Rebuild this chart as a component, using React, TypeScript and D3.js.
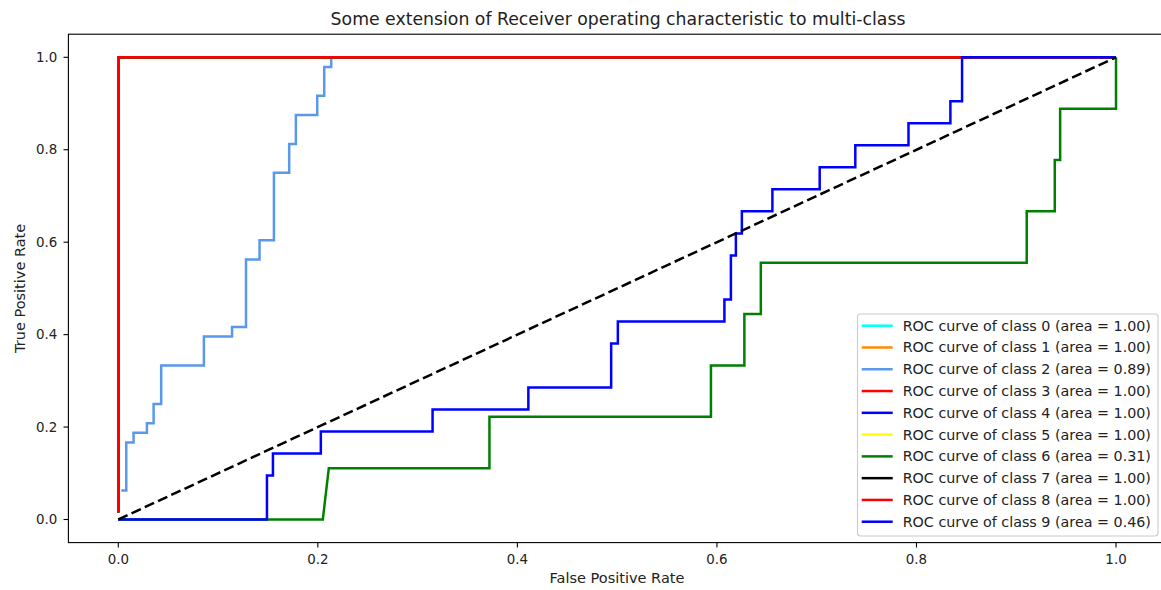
import React from "react";
import * as d3 from "d3";

const W = 1161;
const H = 590;

const titleText = "Some extension of Receiver operating characteristic to multi-class";
const xLabel = "False Positive Rate";
const yLabel = "True Positive Rate";
const tickValues = [0, 0.2, 0.4, 0.6, 0.8, 1.0];
const tickLabels = ["0.0", "0.2", "0.4", "0.6", "0.8", "1.0"];

const classNames = ["0", "1", "2", "3", "4", "5", "6", "7", "8", "9"];
const classAreas = ["1.00", "1.00", "0.89", "1.00", "1.00", "1.00", "0.31", "1.00", "1.00", "0.46"];
const classColors = ["#00ffff", "#ff8c00", "#5a98ec", "#ff0000", "#0000ff", "#ffff00", "#008000", "#000000", "#ff0000", "#0000ff"];

// perfect classifiers (0, 1, 3, 4, 5, 7, 8)
const fprPerfect = [0, 0, 1];
const tprPerfect = [0.015, 1, 1];

const fpr2 = [0.003, 0.008, 0.008, 0.0153, 0.0153, 0.0287, 0.0287, 0.0354, 0.0354, 0.043, 0.043, 0.0858, 0.0858, 0.114, 0.114, 0.128, 0.128, 0.1416, 0.1416, 0.156, 0.156, 0.1713, 0.1713, 0.178, 0.178, 0.1994, 0.1994, 0.2064, 0.2064, 0.2134, 0.2134, 1.0];
const tpr2 = [0.0625, 0.0625, 0.1667, 0.1667, 0.1875, 0.1875, 0.2083, 0.2083, 0.25, 0.25, 0.3333, 0.3333, 0.3958, 0.3958, 0.4167, 0.4167, 0.5625, 0.5625, 0.6042, 0.6042, 0.75, 0.75, 0.8125, 0.8125, 0.875, 0.875, 0.9167, 0.9167, 0.9792, 0.9792, 1, 1];

const fpr6 = [0, 0.205, 0.211, 0.372, 0.372, 0.594, 0.594, 0.6275, 0.6275, 0.644, 0.644, 0.9105, 0.9105, 0.9386, 0.9386, 0.944, 0.944, 1.0, 1.0];
const tpr6 = [0, 0, 0.1111, 0.1111, 0.2222, 0.2222, 0.3333, 0.3333, 0.4444, 0.4444, 0.5556, 0.5556, 0.6667, 0.6667, 0.7778, 0.7778, 0.8889, 0.8889, 1.0];

const fpr9 = [0, 0.149, 0.149, 0.155, 0.155, 0.203, 0.203, 0.315, 0.315, 0.411, 0.411, 0.494, 0.494, 0.5007, 0.5007, 0.6075, 0.6075, 0.614, 0.614, 0.619, 0.619, 0.625, 0.625, 0.6556, 0.6556, 0.703, 0.703, 0.7387, 0.7387, 0.792, 0.792, 0.834, 0.834, 0.8457, 0.8457, 1.0];
const tpr9 = [0, 0, 0.0952, 0.0952, 0.1429, 0.1429, 0.1905, 0.1905, 0.2381, 0.2381, 0.2857, 0.2857, 0.381, 0.381, 0.4286, 0.4286, 0.4762, 0.4762, 0.5714, 0.5714, 0.619, 0.619, 0.6667, 0.6667, 0.7143, 0.7143, 0.7619, 0.7619, 0.8095, 0.8095, 0.8571, 0.8571, 0.9048, 0.9048, 1, 1];

const classFpr = [fprPerfect, fprPerfect, fpr2, fprPerfect, fprPerfect, fprPerfect, fpr6, fprPerfect, fprPerfect, fpr9];
const classTpr = [tprPerfect, tprPerfect, tpr2, tprPerfect, tprPerfect, tprPerfect, tpr6, tprPerfect, tprPerfect, tpr9];

const diagFpr = [0, 1];
const diagTpr = [0, 1];

const FONT = "'DejaVu Sans', sans-serif";

export default function App() {
  const left = 68.4;
  const top = 34.2;
  const plotW = 1097.5;
  const plotH = 508.4;

  const x = d3.scaleLinear().domain([-0.05, 1.05]).range([left, left + plotW]);
  const y = d3.scaleLinear().domain([-0.05, 1.05]).range([top + plotH, top]);

  const line = d3
    .line<[number, number]>()
    .x((d) => x(d[0]))
    .y((d) => y(d[1]));

  const pts = (f: number[], t: number[]) => f.map((v, i) => [v, t[i]] as [number, number]);

  const legX = 857.5;
  const legY = 314;
  const legW = 300.5;
  const legH = 222;
  const rowH = 21.78;
  const LW = 2.5;

  return (
    <svg
      width={W}
      height={H}
      style={{ position: "absolute", left: 0, top: 0, background: "#fff" }}
      fontFamily={FONT}
    >
      <rect x={0} y={0} width={W} height={H} fill="#fff" />
      <defs>
        <clipPath id="plotclip">
          <rect x={left} y={top} width={plotW} height={plotH} />
        </clipPath>
      </defs>

      <g clipPath="url(#plotclip)">
        {classNames.map((c, i) => (
          <path
            key={c}
            d={line(pts(classFpr[i], classTpr[i])) || ""}
            fill="none"
            stroke={classColors[i]}
            strokeWidth={LW}
            strokeLinejoin="miter"
            strokeLinecap="butt"
          />
        ))}
        <path
          d={line(pts(diagFpr, diagTpr)) || ""}
          fill="none"
          stroke="#000"
          strokeWidth={LW}
          strokeDasharray="10.2,4.4"
        />
      </g>

      {/* spines */}
      <rect x={left} y={top} width={plotW} height={plotH} fill="none" stroke="#000" strokeWidth={1.1} />

      {/* x ticks */}
      {tickValues.map((v, i) => (
        <g key={"xt" + i}>
          <line x1={x(v)} x2={x(v)} y1={top + plotH} y2={top + plotH + 4.9} stroke="#000" strokeWidth={1.1} />
          <text x={x(v)} y={top + plotH + 16.5} textAnchor="middle" dominantBaseline="central" fontSize={13.4} fill="#222">
            {tickLabels[i]}
          </text>
        </g>
      ))}
      {/* y ticks */}
      {tickValues.map((v, i) => (
        <g key={"yt" + i}>
          <line x1={left - 4.9} x2={left} y1={y(v)} y2={y(v)} stroke="#000" strokeWidth={1.1} />
          <text x={left - 11} y={y(v)} textAnchor="end" dominantBaseline="central" fontSize={13.4} fill="#222">
            {tickLabels[i]}
          </text>
        </g>
      ))}

      <text x={617} y={578} textAnchor="middle" dominantBaseline="central" fontSize={14.5} fill="#222">
        {xLabel}
      </text>
      <text
        transform={`translate(20,${(top + top + plotH) / 2}) rotate(-90)`}
        textAnchor="middle"
        dominantBaseline="central"
        fontSize={14.5}
        fill="#222"
      >
        {yLabel}
      </text>
      <text x={618} y={25.3} textAnchor="middle" fontSize={17.3} fill="#222">
        {titleText}
      </text>

      {/* legend */}
      <rect x={legX} y={legY} width={legW} height={legH} rx={3} ry={3} fill="#fff" fillOpacity={0.8} stroke="#cccccc" strokeWidth={1.1} />
      {classNames.map((c, i) => {
        const ry = 325.7 + i * rowH;
        return (
          <g key={"lg" + c}>
            <line x1={861.7} x2={892.7} y1={ry} y2={ry} stroke={classColors[i]} strokeWidth={LW} />
            <text x={902.7} y={ry} dominantBaseline="central" fontSize={14.3} fill="#222">
              {`ROC curve of class ${c} (area = ${classAreas[i]})`}
            </text>
          </g>
        );
      })}
    </svg>
  );
}
